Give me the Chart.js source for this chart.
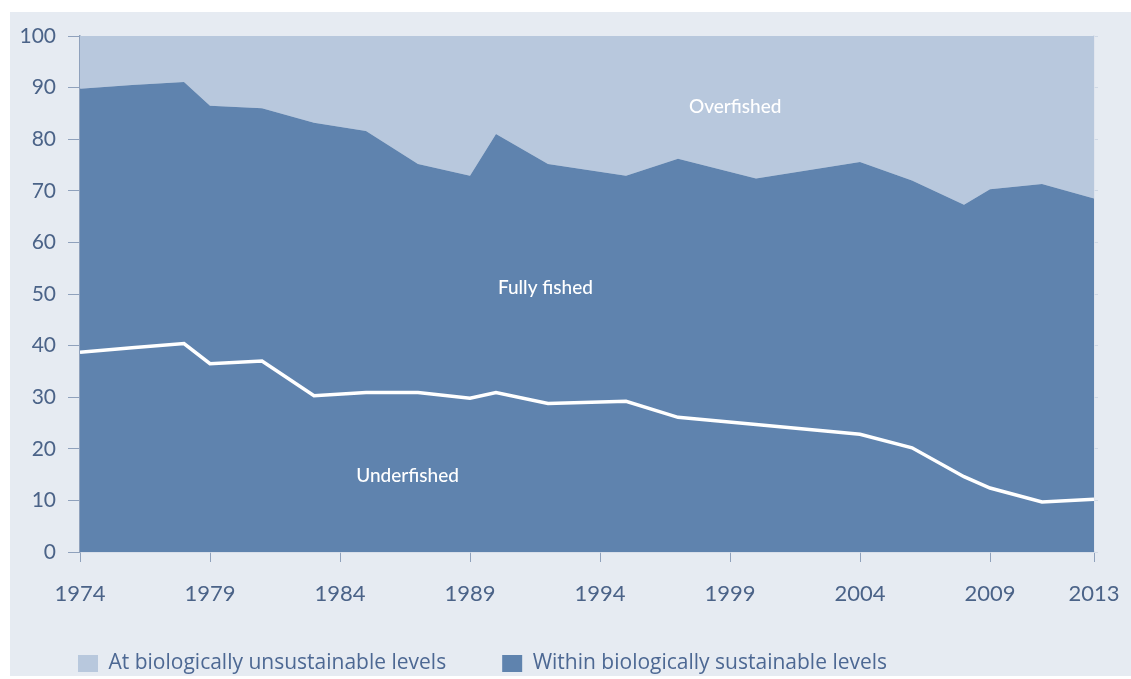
<!DOCTYPE html>
<html>
<head>
    <title>Fish stocks 1974-2013</title>
    <style>
        html, body {
            margin: 0;
            padding: 0;
            background: #ffffff;
        }
        .panel {
            position: absolute;
            left: 10px;
            top: 12px;
            width: 1121px;
            height: 664px;
            background-color: #e6ebf2;
        }
        .chart-box {
            position: absolute;
            left: 0;
            top: 0;
            width: 1131px;
            height: 679px;
        }
    </style>
</head>
<body>
    <div class="panel"></div>
    <div class="chart-box">
        <canvas id="stocks-chart" width="1131" height="679"></canvas>
    </div>

    <script src="https://cdn.jsdelivr.net/npm/chart.js"></script>

    <script>
        // Years with a vertex on either line
        const years = [1974, 1976, 1978, 1979, 1981, 1983, 1985, 1987, 1989, 1990,
                       1992, 1995, 1997, 2000, 2004, 2006, 2008, 2009, 2011, 2013];

        // Share of stocks within biologically sustainable levels (%)
        const sustainable = [89.8, 90.5, 91.1, 86.5, 86.0, 83.2, 81.6, 75.2, 72.9, 81.0,
                             75.2, 72.9, 76.2, 72.4, 75.6, 72.0, 67.3, 70.3, 71.3, 68.5];

        // Share of stocks at biologically unsustainable levels (%)
        const unsustainable = [10.2, 9.5, 8.9, 13.5, 14.0, 16.8, 18.4, 24.8, 27.1, 19.0,
                               24.8, 27.1, 23.8, 27.6, 24.4, 28.0, 32.7, 29.7, 28.7, 31.5];

        // Underfished share (white line) (%)
        const underfished = [38.7, 39.6, 40.4, 36.5, 37.0, 30.3, 30.9, 30.9, 29.8, 30.9,
                             28.8, 29.2, 26.1, 24.7, 22.8, 20.2, 14.6, 12.4, 9.7, 10.2];

        const xTicks = [1974, 1979, 1984, 1989, 1994, 1999, 2004, 2009, 2013];
        const yTicks = [0, 10, 20, 30, 40, 50, 60, 70, 80, 90, 100];

        const areaLabels = [
            { text: 'Overfished', year: 1999.2, value: 86.3 },
            { text: 'Fully fished', year: 1991.9, value: 51.2 },
            { text: 'Underfished', year: 1986.6, value: 14.8 }
        ];

        const toPoints = vals => years.map((yr, i) => ({ x: yr, y: vals[i] }));

        const axisText = '#4b6388';
        const fontName = 'Lato, "Noto Sans", sans-serif';

        // Draws the white area names inside the plot
        const areaLabelPlugin = {
            id: 'areaLabels',
            afterDatasetsDraw(chart) {
                const ctx = chart.ctx;
                const xs = chart.scales.x;
                const ys = chart.scales.y;
                ctx.save();
                ctx.fillStyle = '#ffffff';
                ctx.font = '500 19px ' + fontName;
                ctx.textAlign = 'center';
                ctx.textBaseline = 'middle';
                areaLabels.forEach(l => {
                    ctx.fillText(l.text, xs.getPixelForValue(l.year), ys.getPixelForValue(l.value));
                });
                ctx.restore();
            }
        };

        // Nudges the legend box so it sits under the plot like the original
        const legendShift = {
            id: 'legendShift',
            afterLayout(chart) {
                chart.legend.left += 8;
                chart.legend.right += 8;
                chart.legend.top -= 13;
                chart.legend.bottom -= 13;
            }
        };

        const ctx = document.getElementById('stocks-chart').getContext('2d');

        const stocksChart = new Chart(ctx, {
            type: 'line',
            data: {
                datasets: [
                    {
                        label: 'Within biologically sustainable levels',
                        data: toPoints(sustainable),
                        backgroundColor: '#5f83ae',
                        borderColor: '#5f83ae',
                        borderWidth: 0,
                        fill: 'origin',
                        pointRadius: 0,
                        stack: 'share',
                        order: 2
                    },
                    {
                        label: 'At biologically unsustainable levels',
                        data: toPoints(unsustainable),
                        backgroundColor: '#b8c8dd',
                        borderColor: '#b8c8dd',
                        borderWidth: 0,
                        fill: '-1',
                        pointRadius: 0,
                        stack: 'share',
                        order: 3
                    },
                    {
                        label: 'Underfished',
                        data: toPoints(underfished),
                        borderColor: '#ffffff',
                        borderWidth: 3.5,
                        fill: false,
                        pointRadius: 0,
                        stack: 'line',
                        order: 0
                    }
                ]
            },
            options: {
                responsive: false,
                animation: false,
                layout: {
                    padding: { left: 14, right: 37, top: 36, bottom: -18 }
                },
                plugins: {
                    tooltip: { enabled: false },
                    legend: {
                        position: 'bottom',
                        align: 'start',
                        labels: {
                            boxWidth: 20,
                            boxHeight: 17,
                            padding: 56,
                            color: '#4d6893',
                            font: { family: '"Open Sans", Lato, sans-serif', size: 21 },
                            filter: item => item.datasetIndex !== 2,
                            sort: (a, b) => b.datasetIndex - a.datasetIndex
                        }
                    }
                },
                scales: {
                    x: {
                        type: 'linear',
                        min: 1974,
                        max: 2013,
                        afterBuildTicks: scale => {
                            scale.ticks = xTicks.map(v => ({ value: v }));
                        },
                        afterFit: scale => {
                            scale.height = 58;
                            scale.paddingLeft = 0;
                            scale.paddingRight = 0;
                        },
                        grid: {
                            drawOnChartArea: false,
                            drawTicks: true,
                            tickLength: 10,
                            color: '#8fa1bc'
                        },
                        border: { color: '#c9d3e1', width: 1.5 },
                        ticks: {
                            padding: 19,
                            color: axisText,
                            font: { family: fontName, size: 22 },
                            maxRotation: 0,
                            callback: v => String(v)
                        }
                    },
                    y: {
                        stacked: true,
                        min: 0,
                        max: 100,
                        afterBuildTicks: scale => {
                            scale.ticks = yTicks.map(v => ({ value: v }));
                        },
                        afterFit: scale => {
                            scale.width = 66;
                            scale.paddingTop = 0;
                            scale.paddingBottom = 0;
                        },
                        grid: {
                            drawOnChartArea: false,
                            drawTicks: true,
                            tickLength: 12,
                            color: '#8fa1bc'
                        },
                        border: { color: '#8fa1bc', width: 1.5 },
                        ticks: {
                            padding: 12,
                            color: axisText,
                            font: { family: fontName, size: 21 }
                        }
                    },
                    y2: {
                        position: 'right',
                        min: 0,
                        max: 100,
                        afterBuildTicks: scale => {
                            scale.ticks = yTicks.map(v => ({ value: v }));
                        },
                        afterFit: scale => {
                            scale.width = 0;
                        },
                        grid: {
                            drawOnChartArea: false,
                            tickLength: 4,
                            color: '#cfd8e5'
                        },
                        border: { color: '#d9e0ea', width: 1.5 },
                        ticks: { display: false }
                    }
                }
            },
            plugins: [areaLabelPlugin, legendShift]
        });
    </script>
</body>
</html>
